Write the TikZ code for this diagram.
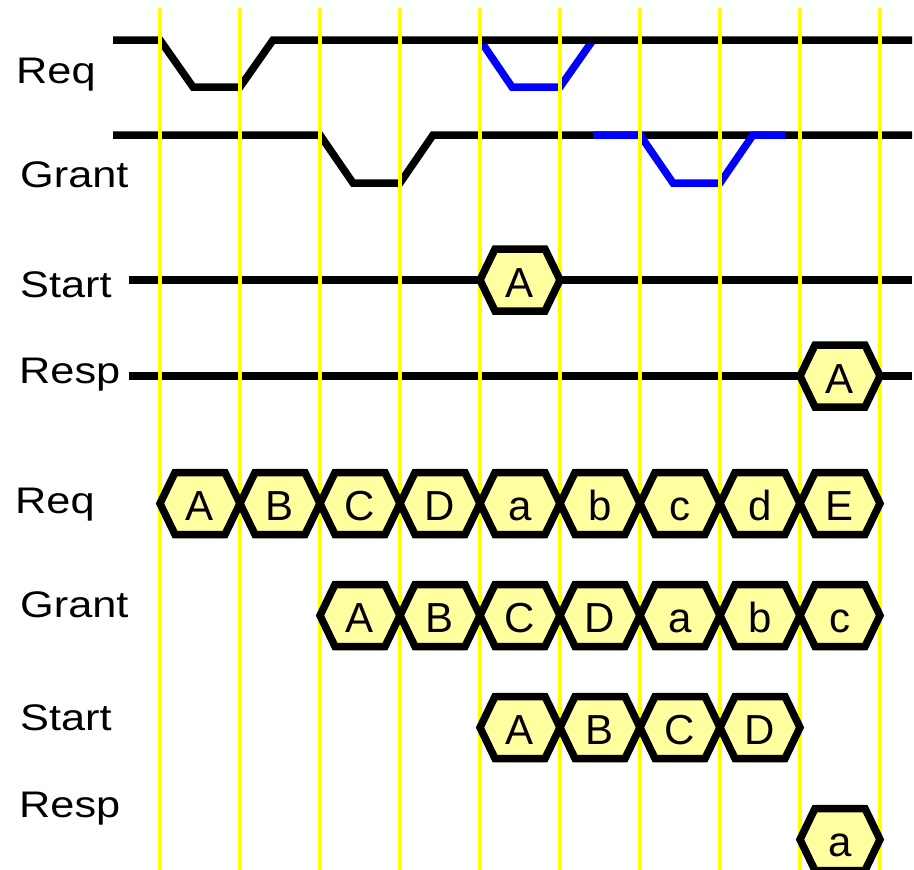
\documentclass[tikz,border=0pt]{standalone}
\usepackage{fontspec}
\setmainfont{Liberation Sans}
\definecolor{gridyellow}{RGB}{255,255,0}
\definecolor{hexfill}{RGB}{255,255,160}
\definecolor{waveblue}{RGB}{0,0,255}
\newcommand\lbtext[1]{\scalebox{1.17}[1]{#1}}
\newcommand\hexbox[4]{%
  \draw[hexshape] (#1,#2) -- ++(15,-31) -- ++(50,0) -- ++(15,31) -- ++(-15,31) -- ++(-50,0) -- cycle;
  \node[hexlbl] (#4) at ({#1+40},{#2+17}) {#3};}
\begin{document}
\begin{tikzpicture}[x=1pt,y=-1pt,
  wave/.style={line width=7.5pt, line join=miter, line cap=butt},
  gridline/.style={draw=gridyellow, line width=3.8pt},
  hexshape/.style={draw=black, fill=hexfill, line width=7.5pt, line join=miter},
  lbl/.style={anchor=base west, inner sep=0pt, font=\fontsize{37}{40}\selectfont},
  hexlbl/.style={anchor=base, inner sep=0pt, font=\fontsize{42}{44}\selectfont}]
\useasboundingbox (0,0) rectangle (914,870);

% waveforms
\draw[wave, waveblue] (480,40) -- (512,87) -- (560,87) -- (593,40);
\draw[wave] (113,40) -- (160,40) -- (193,87) -- (240,87) -- (273,40) -- (912,40);
\draw[wave] (113,135) -- (320,135) -- (353,183) -- (400,183) -- (433,135) -- (912,135);
\draw[wave, waveblue] (593,135) -- (640,135) -- (673,183) -- (720,183) -- (753,135) -- (785,135);
\draw[wave] (129,280) -- (480,280);
\draw[wave] (560,280) -- (912,280);
\draw[wave] (129,376) -- (800,376);
\draw[wave] (880,376) -- (912,376);

% grid
\foreach \x in {160,240,...,880} \draw[gridline] (\x,8) -- (\x,870);

% signal hexes
\hexbox{480}{280}{A}{sA}
\hexbox{800}{376}{A}{rA}

% bus Req
\foreach \x/\t/\n in {160/A/1,240/B/2,320/C/3,400/D/4,480/a/5,560/b/6,640/c/7,720/d/8,800/E/9}
  {\hexbox{\x}{503.5}{\t}{bq\n}}
% bus Grant
\foreach \x/\t/\n in {320/A/1,400/B/2,480/C/3,560/D/4,640/a/5,720/b/6,800/c/7}
  {\hexbox{\x}{615.5}{\t}{bg\n}}
% bus Start
\foreach \x/\t/\n in {480/A/1,560/B/2,640/C/3,720/D/4}
  {\hexbox{\x}{727.5}{\t}{bs\n}}
% bus Resp
\hexbox{800}{839.5}{a}{br1}

% labels
\node[lbl] (lReq) at (16,83) {\lbtext{Req}};
\node[lbl] (lGrant) at (20,187) {\lbtext{Grant}};
\node[lbl] (lStart) at (20,297) {\lbtext{Start}};
\node[lbl] (lResp) at (19,383) {\lbtext{Resp}};
\node[lbl] (lbReq) at (15,513) {\lbtext{Req}};
\node[lbl] (lbGrant) at (20,617) {\lbtext{Grant}};
\node[lbl] (lbStart) at (20,730) {\lbtext{Start}};
\node[lbl] (lbResp) at (19,817) {\lbtext{Resp}};
\end{tikzpicture}
\end{document}
